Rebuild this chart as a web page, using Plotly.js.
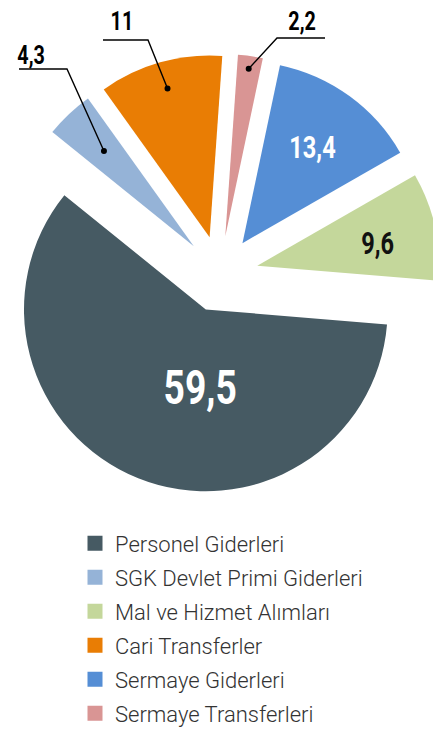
<!DOCTYPE html>
<html><head><meta charset="utf-8">
<script src="https://cdn.plot.ly/plotly-3.0.1.min.js"></script>
<style>html,body{margin:0;padding:0;overflow:hidden;background:#fff;width:433px;height:731px}#chart{width:440px;height:731px}</style>
</head><body><div id="chart"></div>
<script>
// Slices in drawing order (clockwise from 12 o'clock)
const sliceLabels = ['Sermaye Transferleri','Sermaye Giderleri','Mal ve Hizmet Alımları','Personel Giderleri','SGK Devlet Primi Giderleri','Cari Transferler'];
const sliceValues = [2.2, 13.4, 9.6, 59.5, 4.3, 11];
const sliceColors = ['#d99594','#558ed5','#c4d79b','#465a63','#95b3d7','#e97d04'];
// Legend order
const legendLabels = ['Personel Giderleri','SGK Devlet Primi Giderleri','Mal ve Hizmet Alımları','Cari Transferler','Sermaye Giderleri','Sermaye Transferleri'];

const W = 440, H = 731;
const NUM_FONT = 'Roboto, "DejaVu Sans Condensed", sans-serif';
const SQUEEZE = 0.76;
const fmt = v => String(v).replace('.', ',');

// layout constants
const ROT = 4, PULL = 0.21;
const CY = 274;
const R_BOX = W / 2;
const domY = [1 - (CY + R_BOX) / H, 1 - (CY - R_BOX) / H];
const CX = W / 2;
const RAD = R_BOX / (1 + PULL);

// inside labels: radial fraction, angular offset from slice middle, font
const insideLabels = {
  'Personel Giderleri': {k: 0.43, delta: -17.5, size: 49, color: '#ffffff'},
  'Sermaye Giderleri': {k: 0.65, delta: 0, size: 31, color: '#ffffff'},
  'Mal ve Hizmet Alımları': {k: 0.675, delta: 2, size: 31, color: '#111111'}
};
// callouts: text centre, underline [x0,x1,y], elbow side, radial fraction of the dot
const callouts = {
  'SGK Devlet Primi Giderleri': {tx: 31, ty: 55, ux0: 19, ux1: 67, uy: 69, elbow: 'right', f: 0.72},
  'Cari Transferler': {tx: 122, ty: 21, ux0: 103, ux1: 148, uy: 40, elbow: 'right', f: 0.85},
  'Sermaye Transferleri': {tx: 302, ty: 21, ux0: 277, ux1: 325, uy: 38, elbow: 'left', f: 0.93}
};

const total = sliceValues.reduce((a, b) => a + b, 0);
let acc = ROT;
const mids = sliceValues.map(v => { const m = acc + v / total * 180; acc += v / total * 360; return m; });
const dir = deg => [Math.sin(deg * Math.PI / 180), -Math.cos(deg * Math.PI / 180)];

const pie = {
  type: 'pie', labels: sliceLabels, values: sliceValues, sort: false, direction: 'clockwise',
  rotation: ROT, pull: PULL, domain: {x: [0, 1], y: domY},
  marker: {colors: sliceColors, line: {width: 0}},
  textinfo: 'none', showlegend: false, hoverinfo: 'label+value'
};

const legendTraces = legendLabels.map((l, i) => ({
  type: 'scatter', mode: 'markers', x: [null], y: [null], name: l, legendgroup: 'g' + i,
  marker: {symbol: 'square', size: 15, color: sliceColors[sliceLabels.indexOf(l)]},
  hoverinfo: 'skip'
}));

const shapes = [], annotations = [];
sliceLabels.forEach((l, i) => {
  const vtx = dir(mids[i]).map((d, j) => (j ? CY : CX) + PULL * RAD * d);
  const ins = insideLabels[l];
  if (ins) {
    const p = dir(mids[i] + ins.delta);
    annotations.push({xref: 'x', yref: 'y', x: vtx[0] + ins.k * RAD * p[0], y: vtx[1] + ins.k * RAD * p[1],
      text: fmt(sliceValues[i]), showarrow: false, xanchor: 'center', yanchor: 'middle',
      font: {family: NUM_FONT, size: ins.size, weight: 700, color: ins.color}});
  }
  const c = callouts[l];
  if (c) {
    const d = dir(mids[i]);
    const dx = vtx[0] + c.f * RAD * d[0], dy = vtx[1] + c.f * RAD * d[1];
    const ex = c.elbow === 'right' ? c.ux1 : c.ux0;
    const sx = c.elbow === 'right' ? c.ux0 : c.ux1;
    shapes.push({type: 'path', xref: 'x', yref: 'y', path: `M ${sx} ${c.uy} L ${ex} ${c.uy} L ${dx} ${dy}`, line: {color: '#000', width: 1.4}});
    shapes.push({type: 'circle', xref: 'x', yref: 'y', x0: dx - 3, x1: dx + 3, y0: dy - 3, y1: dy + 3, fillcolor: '#000', line: {width: 0}});
    annotations.push({xref: 'x', yref: 'y', x: c.tx, y: c.ty, text: fmt(sliceValues[i]), showarrow: false,
      font: {family: NUM_FONT, size: 26, weight: 700, color: '#000'}, xanchor: 'center', yanchor: 'middle'});
  }
});

const layout = {
  width: W, height: H, margin: {l: 0, r: 0, t: 0, b: 0, autoexpand: false},
  paper_bgcolor: '#fff', plot_bgcolor: 'rgba(0,0,0,0)',
  xaxis: {range: [0, W], visible: false, fixedrange: true},
  yaxis: {range: [H, 0], visible: false, fixedrange: true},
  showlegend: true,
  legend: {x: 75 / W, xanchor: 'left', y: 1 - 522.5 / H, yanchor: 'top', traceorder: 'grouped', tracegroupgap: 2.4,
    font: {family: 'Roboto', size: 22, weight: 300, color: '#333333'}, bgcolor: 'rgba(0,0,0,0)', itemclick: false, itemdoubleclick: false},
  shapes: shapes, annotations: annotations
};

Plotly.newPlot('chart', [pie].concat(legendTraces), layout, {displayModeBar: false, staticPlot: true}).then(gd => {
  // condensed look for the number labels
  gd.querySelectorAll('text.annotation-text').forEach(t => {
    const len = t.getComputedTextLength();
    t.setAttribute('textLength', (len * SQUEEZE).toFixed(2));
    t.setAttribute('lengthAdjust', 'spacingAndGlyphs');
  });
});
</script></body></html>
